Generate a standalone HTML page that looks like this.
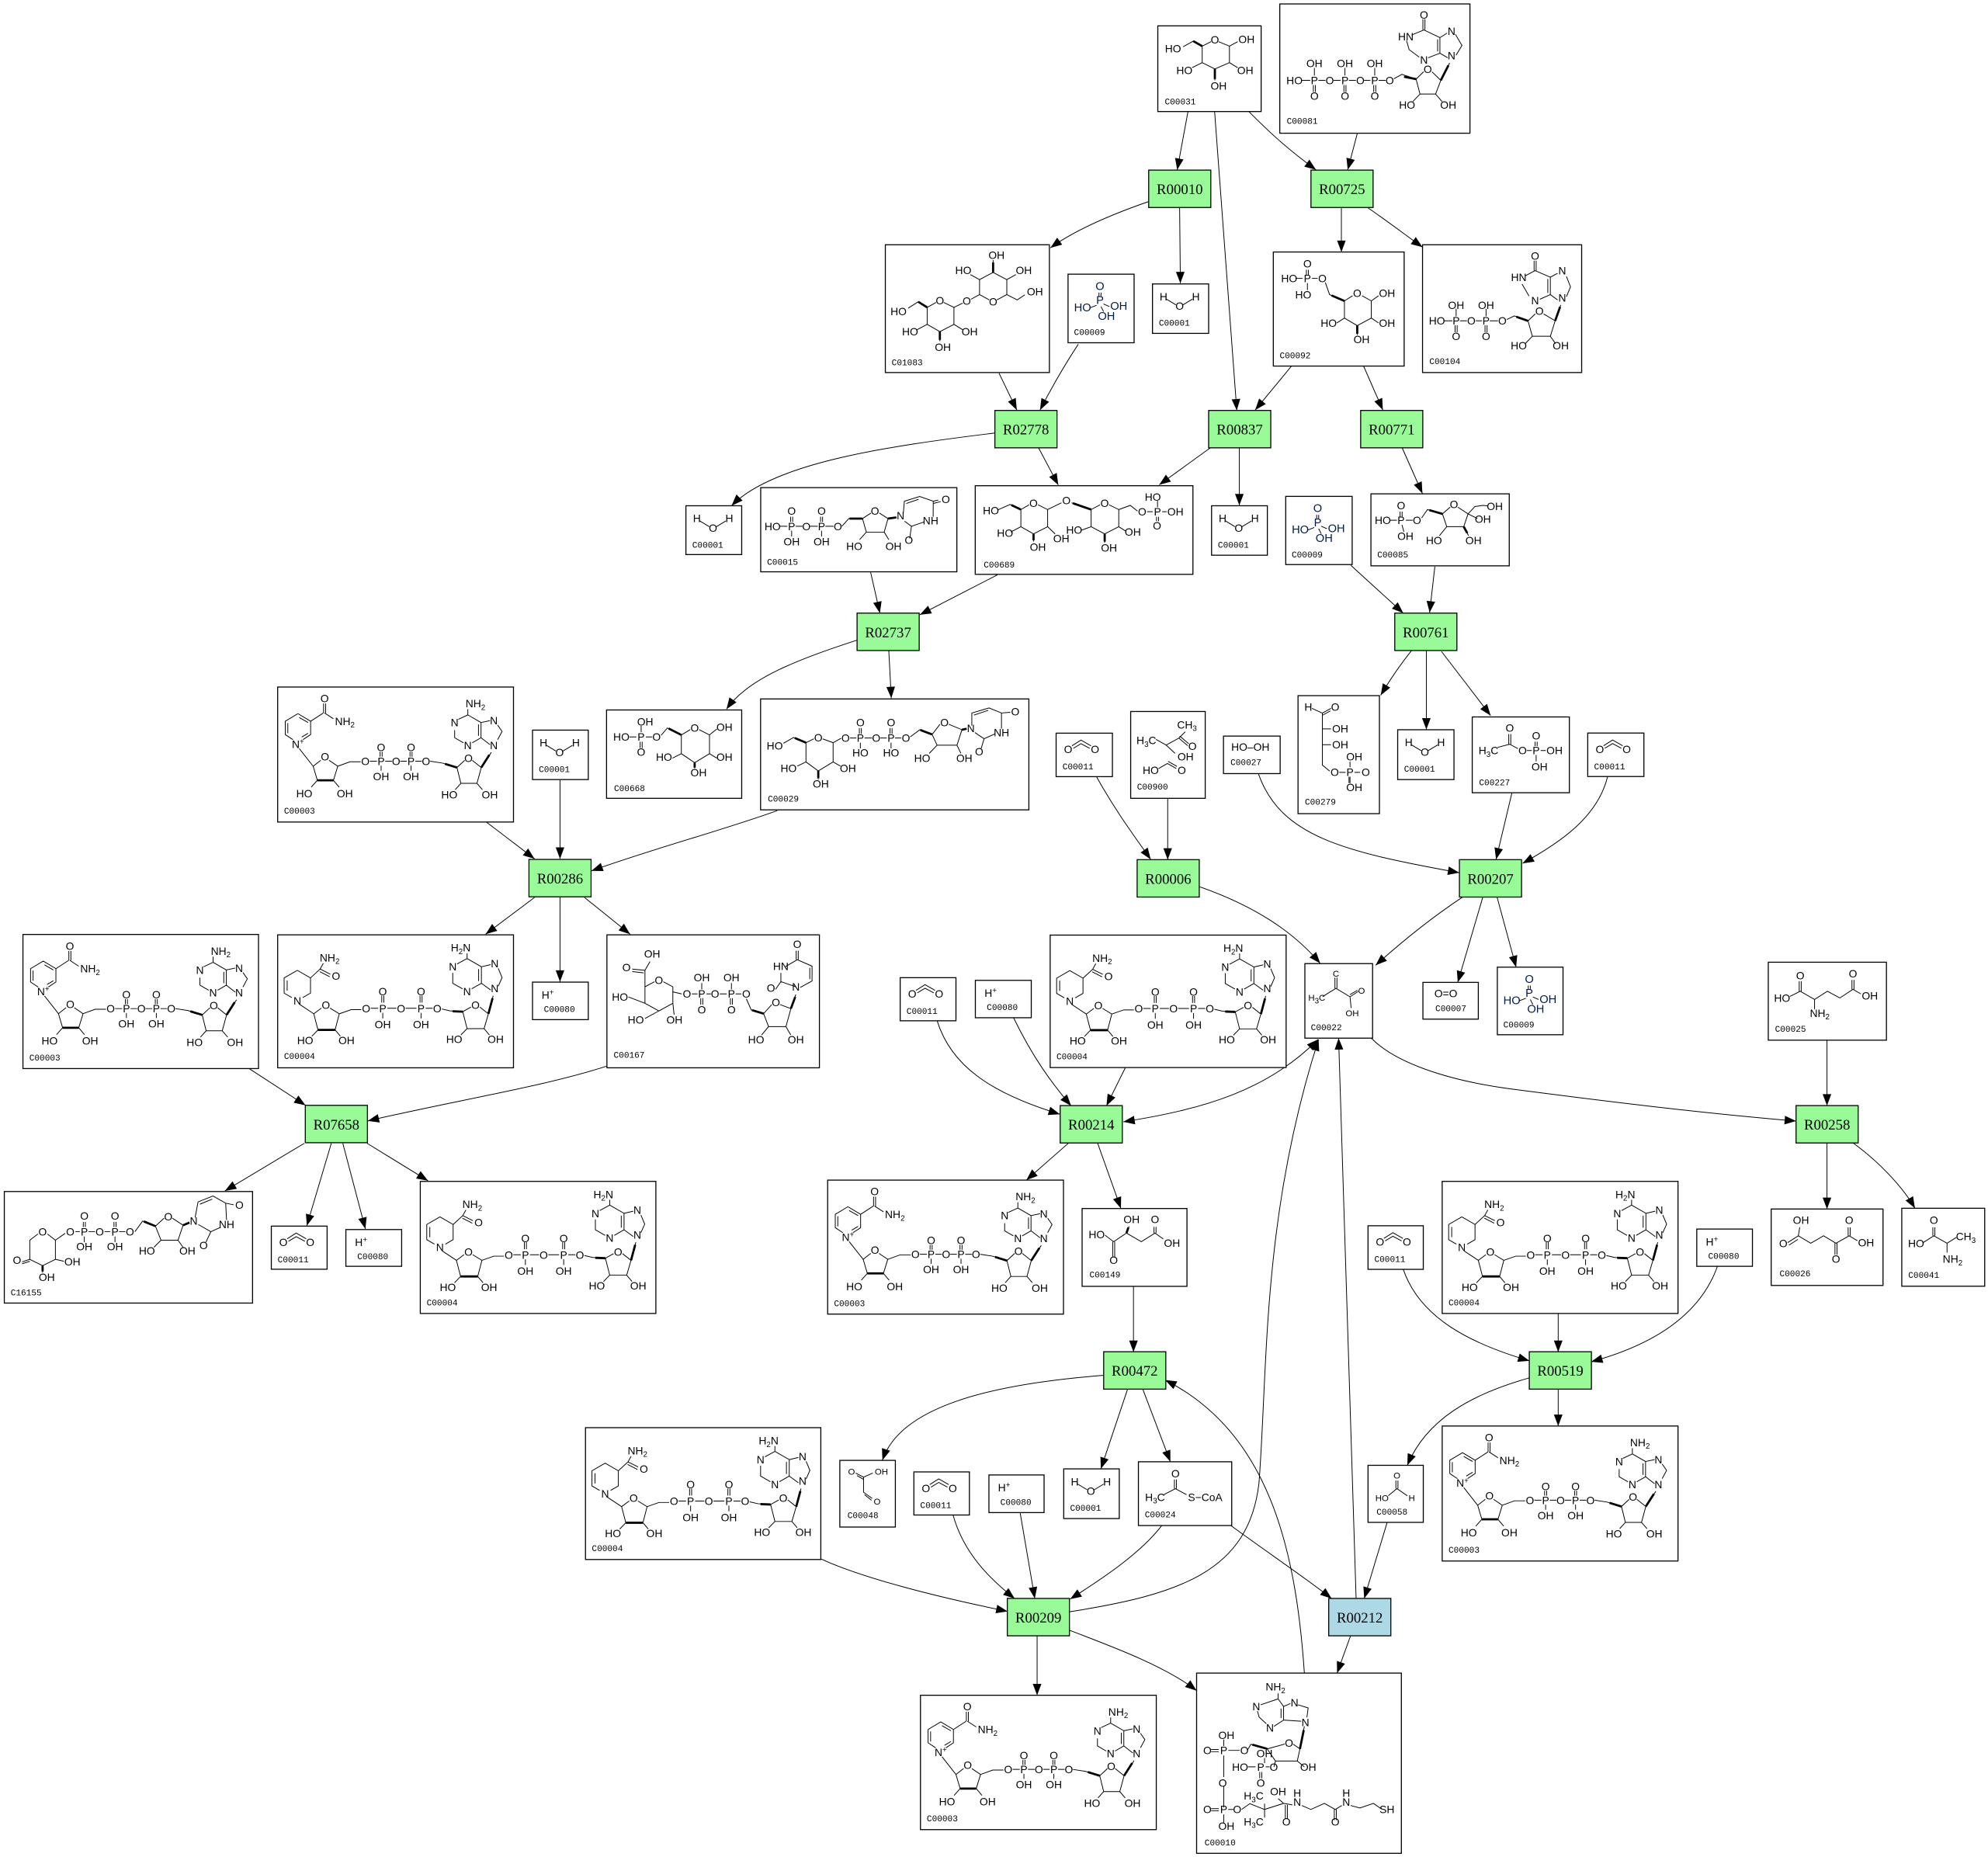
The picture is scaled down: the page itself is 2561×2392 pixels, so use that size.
<!DOCTYPE html>
<html><head><meta charset="utf-8">
<style>
html,body{margin:0;padding:0;background:#fff;}
svg{display:block}
.bx{fill:#fff;stroke:#000;stroke-width:.8}
.rx{fill:#98fb98;stroke:#000;stroke-width:.8}
.rb{fill:#add8e6;stroke:#000;stroke-width:.8}
.bd{fill:none;stroke:#000;stroke-width:.6}
.w{fill:none;stroke:#000;stroke-width:1.7}
.e{fill:none;stroke:#000;stroke-width:.6}
.t{font-family:"Liberation Sans",sans-serif;font-size:8.5px;text-anchor:middle;fill:#000}
.t7{font-size:7px}
.t9{font-size:9px;fill:#001a4d}
.l{font-family:"Liberation Mono",monospace;font-size:6.8px;fill:#000}
.r{font-family:"Liberation Serif",serif;font-size:11.5px;text-anchor:middle;fill:#000}
.s{font-size:6px}
</style></head><body>
<svg width="2561" height="2392" viewBox="0 0 1568 1465" preserveAspectRatio="none" xmlns="http://www.w3.org/2000/svg">
<defs>
<marker id="a" markerUnits="userSpaceOnUse" markerWidth="10" markerHeight="8" refX="9" refY="3.4" orient="auto-start-reverse" overflow="visible"><path d="M0,0L9,3.4L0,6.8z" fill="#000"/></marker>
<g id="gNADP">
<path class="bd" d="M16,21L26,27V37.5L20,41.5M12,41.5L6,37.5V27L16,21M8,28.5V36.5M17,24L24,28M19,39.5L24,36.5M26,27L36,20.5M36.2,20.5V13M37.8,20.5V13M37,20.5L44,25M17,48.5L28,62.5M28,62.5L34,57.8M40.5,57.8L47.4,62.5L44,73.6H31.3L28,62.5M31.3,73.6L26.5,79M44,73.6L48.5,79M47.4,62.5L57,59H65.5M72.7,58.5H78.3M84.9,58.5H90.1M96.7,58.5H101.9M108.5,58.5H113.7M80.8,51V55M82.4,51V55M104.4,51V55M106,51V55M81.6,62V66M105.2,62V66M120.3,58.5L130,60L141.4,63.5L147.5,57.8M153.5,57.8L160.6,63.5L157.2,76H144.5L141.4,63.5M144.5,76L140,81M157.2,76L161.5,81M160.6,63.5L168.5,51.5M150,22L160.4,28V40L153.5,44M146.5,44L139.6,40V34M142.5,25.5L150,22M150,22V17.5M158.4,29.5V38.5M160.4,28L167.5,26.5M173.5,30L177,35L173.5,41.5M167.5,45.5L160.4,40"/>
<path class="w" d="M31.3,73.6L44,73.6M132,60.6L141.4,63.5M160.6,63.5L167,53.5"/>
</g>
<g id="gNADH">
<path class="bd" d="M15.5,28L25.9,34V46L19.8,49.5M11.2,49.5L5.1,46V34L15.5,28M7.5,36V44M25.9,34L33.5,27L36,22.5M33.5,27L41.5,31M33.2,29L41,33M17.5,55L28.5,62.3M28.5,62.3L34.5,57.8M41.3,57.8L48.6,62.3L45.3,75H31.8L28.5,62.3M31.8,75L27,80M45.3,75L49.5,80M48.6,62.3L58,59H66M73.4,57.9H79.3M86.5,57.9H93.7M100.9,57.9H109.5M116.7,57.9H122.3M82.1,48V53.5M83.7,48V53.5M112.3,48V53.5M113.9,48V53.5M82.9,61.5V66M113.1,61.5V66M129.5,58.5L136,60L146,60.6L152.5,57M159.5,57L166.2,62.3L162.8,74H149.4L146,60.6M149.4,74L144.5,79M162.8,74L167,79M166.2,62.3L170,48M149.4,18.7L160.7,25.2V38.2L153,42.6M145.8,42.6L138.1,38.2V30M141.5,23L149.4,18.7M149.4,18.7V14.5M158.5,27V36.5M160.7,25.2L168,23.5M174,26.5L177,33.7L174,40.5M168,43.5L160.7,38.2"/>
<path class="w" d="M31.8,75L45.3,75M138,60.3L146,60.6M166.2,62.3L169.5,50"/>
</g>
</defs>
<rect width="1568" height="1465" fill="#fff"/>

<!-- EDGES -->
<g class="e" marker-end="url(#a)">
<path d="M937,88L928.5,134"/>
<path d="M958,88L975.5,323.8"/>
<path d="M985,88C998,101 1012,115 1038,134"/>
<path d="M1070.6,105L1063,134"/>
<path d="M906,159C880,168 850,180 828.5,195.5"/>
<path d="M930.4,164L931,223.5"/>
<path d="M1058,164L1058,198.8"/>
<path d="M1079,164C1095,175 1108,185 1122,195"/>
<path d="M788,294.5L802,323.5"/>
<path d="M850.5,271.5Q835,295 820.3,323.5"/>
<path d="M1018.5,289L990,323.5"/>
<path d="M1075.6,289L1090.7,323.5"/>
<path d="M784.7,341.6C700,352 610,365 577,399"/>
<path d="M819,353L834.7,382.6"/>
<path d="M954.6,353.3L914.3,382.5"/>
<path d="M977.5,353L977.5,398.7"/>
<path d="M1105.8,353L1121.9,389.3"/>
<path d="M686.7,451.5L694,483.7"/>
<path d="M786.7,453.5L725.5,485"/>
<path d="M1065.5,446L1106.8,483.7"/>
<path d="M1131.7,447L1127.6,483.3"/>
<path d="M676,505C630,520 590,535 573,559.5"/>
<path d="M701,513L703,550.8"/>
<path d="M1113.5,513Q1100,530 1089,548.5"/>
<path d="M1125,513L1125,575.5"/>
<path d="M1137,514L1175.7,564.5"/>
<path d="M383.6,648.5L421.6,677.5"/>
<path d="M441.7,615L441.7,677.5"/>
<path d="M613,639.5C570,655 520,668 466.5,687"/>
<path d="M421.6,708L383,737"/>
<path d="M441.7,708L441.7,774.5"/>
<path d="M461,708L497,737"/>
<path d="M196.5,843L241,872"/>
<path d="M478.7,841C430,857 360,868 290,884.3"/>
<path d="M240,902L177.4,939.5"/>
<path d="M261.3,902L242,967"/>
<path d="M270.4,902L288.2,969.5"/>
<path d="M289.6,902L337.6,931.5"/>
<path d="M739.2,805.5C750,840 780,862 836,879"/>
<path d="M799.5,803C815,835 830,855 844.8,872.4"/>
<path d="M887.5,842.5L872.7,872.4"/>
<path d="M886,885C950,875 1000,860 1039.6,820" marker-start="url(#a)"/>
<path d="M843.1,901.5L809.5,931"/>
<path d="M865.6,901.5L884.1,953.4"/>
<path d="M894,1015L894,1066.6"/>
<path d="M946.3,699.6C990,715 1020,735 1041.3,760"/>
<path d="M1153.9,707.5Q1120,730 1085,761.5"/>
<path d="M1169.6,707.5L1149.8,775"/>
<path d="M1180.7,707.5L1195.8,763"/>
<path d="M921,630L921,678.2"/>
<path d="M865,613C880,640 895,660 907.6,678"/>
<path d="M992.6,610.5C1010,660 1060,672 1151,688.5"/>
<path d="M1192.5,625.5L1180,678"/>
<path d="M1268,612.6C1260,645 1230,665 1200.9,681.1"/>
<path d="M1081.6,819C1100,838 1140,852 1191,859C1260,868 1340,878 1416.6,884.4"/>
<path d="M1441,820.6L1441,872.2"/>
<path d="M1441,901.6L1441,953.8"/>
<path d="M1461.5,901.6C1480,915 1500,935 1510.4,953.2"/>
<path d="M1229,1036L1229,1066.6"/>
<path d="M1106.8,1001.4C1120,1040 1160,1060 1206.3,1073.6"/>
<path d="M1354.6,999C1340,1040 1300,1062 1255,1074.3"/>
<path d="M1229,1095.5L1229,1125"/>
<path d="M1206.3,1087C1160,1100 1125,1120 1110,1156"/>
<path d="M870.7,1085C780,1092 710,1110 696,1152"/>
<path d="M889.5,1095.5L868.3,1158.8"/>
<path d="M901.2,1095.5L923.1,1153.2"/>
<path d="M647.4,1229.8C680,1245 740,1260 794.7,1271.2"/>
<path d="M751.7,1195.2C760,1225 780,1245 800.3,1261.1"/>
<path d="M804.6,1193.3L816.2,1261.1"/>
<path d="M916.3,1203.5C900,1225 870,1245 844,1261.6"/>
<path d="M843.2,1271.6C930,1258 985,1240 993,1170C1000,1080 995,960 1040,820"/>
<path d="M843.2,1286C880,1300 920,1315 943.8,1333.8"/>
<path d="M818,1290.3L818,1337.4"/>
<path d="M970.8,1203.5C1000,1225 1030,1245 1050.3,1261.1"/>
<path d="M1094.1,1201L1076,1261.1"/>
<path d="M1069.6,1261.1L1055.8,819"/>
<path d="M1065.3,1290.3L1054.6,1319.9"/>
<path d="M1028.8,1319.9C1022,1220 1000,1130 919,1088.7"/>
</g>

<!-- REACTIONS -->
<g>
<rect class="rx" x="906" y="134.2" width="49" height="29.5"/><text class="r" x="930.5" y="153.2">R00010</text>
<rect class="rx" x="1034" y="134.2" width="49" height="29.5"/><text class="r" x="1058.5" y="153.2">R00725</text>
<rect class="rx" x="784.7" y="323.8" width="49" height="29.5"/><text class="r" x="809.2" y="342.8">R02778</text>
<rect class="rx" x="953.3" y="323.8" width="49" height="29.5"/><text class="r" x="977.8" y="342.8">R00837</text>
<rect class="rx" x="1073.2" y="323.8" width="49" height="29.5"/><text class="r" x="1097.7" y="342.8">R00771</text>
<rect class="rx" x="676" y="483.7" width="49" height="29.5"/><text class="r" x="700.5" y="502.7">R02737</text>
<rect class="rx" x="1100.1" y="483.7" width="49" height="29.5"/><text class="r" x="1124.6" y="502.7">R00761</text>
<rect class="rx" x="417.2" y="678" width="49" height="29.5"/><text class="r" x="441.7" y="697">R00286</text>
<rect class="rx" x="896.9" y="678.2" width="49" height="29.5"/><text class="r" x="921.4" y="697.2">R00006</text>
<rect class="rx" x="1151.1" y="678.2" width="49" height="29.5"/><text class="r" x="1175.6" y="697.2">R00207</text>
<rect class="rx" x="240.8" y="872" width="49" height="29.5"/><text class="r" x="265.3" y="891">R07658</text>
<rect class="rx" x="836.2" y="872.2" width="49" height="29.5"/><text class="r" x="860.7" y="891.2">R00214</text>
<rect class="rx" x="1416.6" y="872.2" width="49" height="29.5"/><text class="r" x="1441.1" y="891.2">R00258</text>
<rect class="rx" x="870.5" y="1066.4" width="49" height="29.5"/><text class="r" x="895" y="1085.4">R00472</text>
<rect class="rx" x="1206.2" y="1066.4" width="49" height="29.5"/><text class="r" x="1230.7" y="1085.4">R00519</text>
<rect class="rx" x="794.5" y="1261" width="49" height="29.5"/><text class="r" x="819" y="1280">R00209</text>
<rect class="rb" x="1048" y="1261" width="49" height="29.5"/><text class="r" x="1072.5" y="1280">R00212</text>
</g>

<!-- C00031 -->
<g transform="translate(913.2,20.4)">
<rect class="bx" width="81.5" height="67.6"/>
<path class="bd" d="M35,16L42,12.5M48,12.5L56.5,16V29L45,34L35,29V16M35,16L28,12L20,16.5M56.5,16L63,12.5M35,29L27,33M56.5,29L63,33M45,34V43"/>
<path class="w" d="M35,16L28,12M45,34V42"/>
<text class="t" x="45" y="14">O</text><text class="t" x="12" y="21">HO</text><text class="t" x="70" y="13.5">OH</text><text class="t" x="21" y="38">HO</text><text class="t" x="69" y="38">OH</text><text class="t" x="48" y="50.5">OH</text>
<text class="l" x="5.5" y="62">C00031</text>
</g>

<!-- C00081 -->
<g transform="translate(1009.4,3.1)">
<rect class="bx" width="150" height="102"/>
<path class="bd" d="M17,60.3H24M30.5,60.3H36M42.5,60.3H48M54.5,60.3H60M66.5,60.3H71.5M78,60.3H83.5M27.3,50.5V56.5M51.4,50.5V56.5M74.9,50.5V56.5M26.5,64V69.5M28.1,64V69.5M50.6,64V69.5M52.2,64V69.5M74.1,64V69.5M75.7,64V69.5M90,59L96.3,55.6L107.5,59.3M107.5,59.3L113.5,53.5M120,53.5L127,60.3L122.9,71.1H110.6L107.5,59.3M110.6,71.1L105,77M122.9,71.1L128,77M127,60.3L134,46.5M113.7,20.5L104,24.5M100,29L102,36L110,42M117,42.5L126.3,38.9V26.6L113.7,20.5M112.9,20.5V12M114.5,20.5V12M126.3,26.6L132,23M138.5,24L143.7,32.7L139,40.5M132.5,42.5L126.3,38.9M124.5,28V37.5"/>
<path class="w" d="M98,57.5L107.5,59.3M127,60.3L133,48.5"/>
<text class="t" x="11.6" y="63.3">HO</text><text class="t" x="27.3" y="63.3">P</text><text class="t" x="39.4" y="63.3">O</text><text class="t" x="51.4" y="63.3">P</text><text class="t" x="63.5" y="63.3">O</text><text class="t" x="74.9" y="63.3">P</text><text class="t" x="86.7" y="63.3">O</text>
<text class="t" x="27.3" y="50">OH</text><text class="t" x="51.4" y="50">OH</text><text class="t" x="74.9" y="50">OH</text>
<text class="t" x="27.3" y="75.5">O</text><text class="t" x="51.4" y="75.5">O</text><text class="t" x="74.9" y="75.5">O</text>
<text class="t" x="116.7" y="54.5">O</text><text class="t" x="100.4" y="82.7">HO</text><text class="t" x="132.9" y="82.7">OH</text>
<text class="t" x="99.4" y="28.6">HN</text><text class="t" x="113.7" y="47">N</text><text class="t" x="135.5" y="24.5">N</text><text class="t" x="135.5" y="43.9">N</text><text class="t" x="113.7" y="11.7">O</text>
<text class="l" x="5.5" y="94.5">C00081</text>
</g>

<!-- C01083 -->
<g transform="translate(698.3,193.1)">
<rect class="bx" width="129.4" height="100.8"/>
<path class="bd" d="M33,49.4L40,45.5M46,45.5L54.1,49.4V62.8L43,68.5L33,62.8V49.4M74.3,27.5L85,21.8L95.8,27.5V39.3L88,43.5M82,43.5L74.3,39.3V27.5M54.1,49.4L61,46M67.5,43L74.3,39.3M85,21.8V12M74.3,27.5L67,23.5M95.8,27.5L103,23.5M95.8,39.3L104,43.5L110,39.5M33,49.4L26,45L18,50M33,62.8L25,67M54.1,62.8L61,67M43,68.5V76"/>
<path class="w" d="M85,21.8V14M43,68.5V75M33,49.4L26,45"/>
<text class="t" x="43" y="47">O</text><text class="t" x="85" y="48">O</text><text class="t" x="64.2" y="47.4">O</text>
<text class="t" x="87.7" y="11.1">OH</text><text class="t" x="61.5" y="23.2">HO</text><text class="t" x="109.2" y="23.2">OH</text><text class="t" x="118" y="40">OH</text>
<text class="t" x="10.4" y="55.7">HO</text><text class="t" x="19.5" y="71.5">HO</text><text class="t" x="66.5" y="71.5">OH</text><text class="t" x="45.4" y="83.6">OH</text>
<text class="l" x="5" y="95">C01083</text>
</g>

<!-- C00009 (a) -->
<g transform="translate(842.4,216.3)">
<rect class="bx" width="52.1" height="54.1"/>
<path class="bd" d="M24.4,14.5V17.5M26,14.5V17.5M22.5,24.5L17.5,26.5M28,23.5L32.5,25.5M26,25.5L28,29.5"/>
<text class="t t9" x="25.2" y="12.4">O</text><text class="t t9" x="25.2" y="23.5">P</text><text class="t t9" x="11.5" y="29.2">HO</text><text class="t t9" x="40" y="28.2">OH</text><text class="t t9" x="30.3" y="35.9">OH</text>
<text class="l" x="4.7" y="48">C00009</text>
</g>

<!-- C00001 waters -->
<g transform="translate(909,224)"><rect class="bx" width="44.3" height="39"/><path class="bd" d="M11,12L18.5,16.5M24,16.5L31.5,12"/><text class="t" x="8.7" y="13">H</text><text class="t" x="21.4" y="20.5">O</text><text class="t" x="34.2" y="13">H</text><text class="l" x="5" y="33">C00001</text></g>
<g transform="translate(541,399)"><rect class="bx" width="44" height="38.5"/><path class="bd" d="M11,12L18.5,16.5M24,16.5L31.5,12"/><text class="t" x="8.7" y="13">H</text><text class="t" x="21.4" y="20.5">O</text><text class="t" x="34.2" y="13">H</text><text class="l" x="5" y="33">C00001</text></g>
<g transform="translate(955.6,399)"><rect class="bx" width="44" height="39"/><path class="bd" d="M11,12L18.5,16.5M24,16.5L31.5,12"/><text class="t" x="8.7" y="13">H</text><text class="t" x="21.4" y="20.5">O</text><text class="t" x="34.2" y="13">H</text><text class="l" x="5" y="33">C00001</text></g>
<g transform="translate(420,576)"><rect class="bx" width="44" height="39"/><path class="bd" d="M11,12L18.5,16.5M24,16.5L31.5,12"/><text class="t" x="8.7" y="13">H</text><text class="t" x="21.4" y="20.5">O</text><text class="t" x="34.2" y="13">H</text><text class="l" x="5" y="33">C00001</text></g>
<g transform="translate(1102.4,575.7)"><rect class="bx" width="44.4" height="39.3"/><path class="bd" d="M11,12L18.5,16.5M24,16.5L31.5,12"/><text class="t" x="8.7" y="13">H</text><text class="t" x="21.4" y="20.5">O</text><text class="t" x="34.2" y="13">H</text><text class="l" x="5" y="33">C00001</text></g>
<g transform="translate(839,1158.8)"><rect class="bx" width="43.8" height="39.2"/><path class="bd" d="M11,12L18.5,16.5M24,16.5L31.5,12"/><text class="t" x="8.7" y="13">H</text><text class="t" x="21.4" y="20.5">O</text><text class="t" x="34.2" y="13">H</text><text class="l" x="5" y="33">C00001</text></g>

<!-- C00092 -->
<g transform="translate(1004.3,198.8)">
<rect class="bx" width="103.2" height="90"/>
<path class="bd" d="M26.1,14V18M27.7,14V18M17.5,20.8H23M30.5,20.8H35M26.9,24.5V30M41,24L44.4,33.6L56.1,38.6M56.1,38.6L62.5,34.5M70,34.5L77.3,38.6V52.1L66.2,58.1L56.1,52.1V38.6M77.3,38.6L83,34.5M77.3,52.1L83,56M56.1,52.1L50,56M66.2,58.1V65.5"/>
<path class="w" d="M46,34.3L56.1,38.6M66.2,58.1V64.5"/>
<text class="t" x="26.9" y="12.1">O</text><text class="t" x="12.5" y="23.8">HO</text><text class="t" x="26.9" y="23.8">P</text><text class="t" x="38.7" y="23.8">O</text><text class="t" x="23.6" y="36.6">HO</text>
<text class="t" x="66.2" y="35.6">O</text><text class="t" x="89.7" y="35.6">OH</text><text class="t" x="89.7" y="59.1">OH</text><text class="t" x="43.7" y="59.1">HO</text><text class="t" x="69.6" y="71.9">OH</text>
<text class="l" x="5" y="84">C00092</text>
</g>

<!-- C00104 -->
<g transform="translate(1122,193.1)">
<rect class="bx" width="125.5" height="100.8"/>
<path class="bd" d="M17,60H23.5M29.5,60H35M42,60H47M53,60H59.5M26.5,50.5V56.5M50.1,50.5V56.5M25.7,63.5V69M27.3,63.5V69M49.3,63.5V69M50.9,63.5V69M66.5,59L72.4,56.1L83.2,60M83.2,60L89,54.5M95.5,54.5L104.6,60L100.8,72.2H86.6L83.2,60M86.6,72.2L81,78M100.8,72.2L105,78M104.6,60L109,47.5M88.8,20.4L81,24.5M78.5,31L84,40.5M88.8,20.4L100.8,25.6V39.3L92.5,43M88,20.4V12.5M89.6,20.4V12.5M100.8,25.6L106.5,22.5M113.5,25L116.7,33.2L113.5,41M106.5,43.5L100.8,39.3M98.8,27V38"/>
<path class="w" d="M74,56.8L83.2,60M104.6,60L108.5,49"/>
<text class="t" x="11.4" y="63">HO</text><text class="t" x="26.5" y="63">P</text><text class="t" x="38.5" y="63">O</text><text class="t" x="50.1" y="63">P</text><text class="t" x="63" y="63">O</text>
<text class="t" x="26.5" y="50.6">OH</text><text class="t" x="50.1" y="50.6">OH</text><text class="t" x="26.5" y="75.2">O</text><text class="t" x="50.1" y="75.2">O</text>
<text class="t" x="92.2" y="55.4">O</text><text class="t" x="75.9" y="82.5">HO</text><text class="t" x="109" y="82.5">OH</text>
<text class="t" x="75.9" y="28.6">HN</text><text class="t" x="88.8" y="46.9">N</text><text class="t" x="110.2" y="23.4">N</text><text class="t" x="110.2" y="44.8">N</text><text class="t" x="88.8" y="11.8">O</text>
<text class="l" x="5.4" y="94">C00104</text>
</g>

<!-- C00015 -->
<g transform="translate(600,384.7)">
<rect class="bx" width="154.7" height="66.4"/>
<path class="bd" d="M15,30.5H21M27.5,30.5H33M39,30.5H45M51,30.5H57.5M64,30.5L69.5,24.4L80.3,24.4M23.6,23V27M25.2,23V27M47.2,23V27M48.8,23V27M24.4,34V38.5M48,34V38.5M80.3,24.4L87,20M93.5,20L100.4,24.4L97.4,35.1H83.3L80.3,24.4M83.3,35.1L78,41M97.4,35.1L101,41M100.4,24.4L107,23.5M112.5,20L113.3,10.7L125.4,7L136.1,10.7L140,9.8M136.1,10.7L136,23M129,27L118.9,30.5L113.5,26.5M118.9,30.5L117.5,40M114.8,12.5L124.5,9.2M136.1,12.5L142,11"/>
<path class="w" d="M70,24.4L80.3,24.4M100.4,24.4L107,23.5"/>
<text class="t" x="9.4" y="33.5">HO</text><text class="t" x="24.4" y="33.5">P</text><text class="t" x="36" y="33.5">O</text><text class="t" x="48" y="33.5">P</text><text class="t" x="60.9" y="33.5">O</text>
<text class="t" x="24.4" y="21.3">O</text><text class="t" x="48" y="21.3">O</text><text class="t" x="24.4" y="45.7">OH</text><text class="t" x="48" y="45.7">OH</text>
<text class="t" x="90.1" y="21.3">O</text><text class="t" x="73.8" y="49.3">HO</text><text class="t" x="104.7" y="49.3">OH</text>
<text class="t" x="110.3" y="25">N</text><text class="t" x="146" y="12.2">O</text><text class="t" x="134" y="28.9">NH</text><text class="t" x="116.8" y="44.2">O</text>
<text class="l" x="5" y="61">C00015</text>
</g>

<!-- C00689 -->
<g transform="translate(769.2,383.2)">
<rect class="bx" width="171.7" height="69.9"/>
<path class="bd" d="M36,18.8L42.5,15M49.5,15L57.1,18.8V32.3L46,38L36,32.3V18.8M36,18.8L27.5,14.8L18,19M36,32.3L28,36.5M46,38V44M57.1,32.3L63,38M57.1,18.8L68,13.5M91.4,18.8L98.5,15M105.5,15L113.2,18.8V32.3L102.1,38L91.4,32.3V18.8M76,13.5L91.4,18.8M91.4,32.3L84,35M113.2,32.3L119,36M102.1,38V45M113.2,18.8L122.3,15.5L128,20M135.5,20.5H140M147.5,20.5H151M143.8,12V17M143,24.5V28M144.6,24.5V28"/>
<path class="w" d="M36,18.8L28.5,15.2M46,38V43M77,13.8L91.4,18.8M102.1,38V44"/>
<text class="t" x="12.4" y="22.5">HO</text><text class="t" x="23.5" y="40.3">HO</text><text class="t" x="49.4" y="51.4">OH</text><text class="t" x="67.9" y="44.7">OH</text>
<text class="t" x="46" y="16.8">O</text><text class="t" x="71.9" y="14.5">O</text><text class="t" x="102.1" y="16.8">O</text>
<text class="t" x="78" y="38">HO</text><text class="t" x="124.3" y="39.3">OH</text><text class="t" x="105.5" y="52.1">OH</text>
<text class="t" x="131.7" y="23.5">O</text><text class="t" x="143.8" y="23.5">P</text><text class="t" x="157.9" y="23.5">OH</text><text class="t" x="140.1" y="11.8">HO</text><text class="t" x="143.4" y="34.6">O</text>
<text class="l" x="6.7" y="64.5">C00689</text>
</g>

<!-- C00009 (b) -->
<g transform="translate(1014.1,391.6)">
<rect class="bx" width="52.4" height="53.8"/>
<path class="bd" d="M24.4,14.5V17.5M26,14.5V17.5M22.5,24.5L17.5,26.5M28,23.5L32.5,25.5M26,25.5L28,29.5"/>
<text class="t t9" x="25.2" y="12.4">O</text><text class="t t9" x="25.2" y="23.5">P</text><text class="t t9" x="11.5" y="29.2">HO</text><text class="t t9" x="40" y="28.2">OH</text><text class="t t9" x="30.3" y="35.9">OH</text>
<text class="l" x="4.7" y="48">C00009</text>
</g>

<!-- C00085 -->
<g transform="translate(1081.3,389.6)">
<rect class="bx" width="109.1" height="56.8"/>
<path class="bd" d="M23,14V18M24.6,14V18M15,20.8H20.5M27.5,20.8H33M24.5,24.5L26,30M40,19L44.6,12.4L56.4,15.8M56.4,15.8L62.5,10.5M68.5,10.5L76.6,15.8L73.2,25.9H59.8L56.4,15.8M76.6,15.8L82,10L88.3,9.1L92,9.5M76.6,15.8L84,19.5M59.8,25.9L54,33M73.2,25.9L77,33"/>
<path class="w" d="M46,12.8L56.4,15.8M73.2,25.9L76,31"/>
<text class="t" x="23.8" y="12.1">O</text><text class="t" x="9.4" y="23.8">HO</text><text class="t" x="23.8" y="23.8">P</text><text class="t" x="36.3" y="23.8">O</text><text class="t" x="27.2" y="36.3">OH</text>
<text class="t" x="65.5" y="11.4">O</text><text class="t" x="97.7" y="12.8">OH</text><text class="t" x="88.3" y="22.8">OH</text><text class="t" x="49.7" y="39.6">HO</text><text class="t" x="80.9" y="39.6">OH</text>
<text class="l" x="5" y="50">C00085</text>
</g>

<!-- NAD+ C00003 (a) -->
<g transform="translate(219,542)">
<rect class="bx" width="186" height="106.5"/>
<use href="#gNADP"/>
<text class="t" x="37" y="12">O</text><text class="t" x="53" y="30">NH<tspan class="s" dy="2">2</tspan></text><text class="t" x="16" y="48">N<tspan class="s" dy="-3">+</tspan></text><text class="t" x="37.3" y="58">O</text><text class="t" x="21" y="87">HO</text><text class="t" x="53" y="87">OH</text><text class="t" x="69.2" y="61.5">O</text><text class="t" x="81.6" y="61.5">P</text><text class="t" x="93.4" y="61.5">O</text><text class="t" x="105.2" y="61.5">P</text><text class="t" x="117" y="61.5">O</text><text class="t" x="81.6" y="50.5">O</text><text class="t" x="105.2" y="50.5">O</text><text class="t" x="81.6" y="73.5">OH</text><text class="t" x="105.2" y="73.5">OH</text><text class="t" x="150.5" y="59">O</text><text class="t" x="135.4" y="88">HO</text><text class="t" x="167.3" y="88">OH</text><text class="t" x="139.6" y="31">N</text><text class="t" x="150" y="49">N</text><text class="t" x="170.5" y="29.5">N</text><text class="t" x="170.5" y="49">N</text><text class="t" x="156" y="16">NH<tspan class="s" dy="2">2</tspan></text>
<text class="l" x="5" y="100">C00003</text>
</g>

<!-- C00668 -->
<g transform="translate(478.4,560.1)">
<rect class="bx" width="106.6" height="69.7"/>
<path class="bd" d="M27.3,12.5V17.5M18,21.3H23.5M31,21.3H36M26.5,25V30M28.1,25V30M43,20L48,14.2L59,19.7M59,19.7L66,15.5M73,15.5L81.2,19.7V34.5L69.5,41.6L59,34.5V19.7M81.2,19.7L87,15M81.2,34.5L87,38M59,34.5L52,38M69.5,41.6V46"/>
<path class="w" d="M49,14.6L59,19.7M69.5,41.6V45.5"/>
<text class="t" x="30.5" y="12.1">OH</text><text class="t" x="11.7" y="24.3">HO</text><text class="t" x="27.3" y="24.3">P</text><text class="t" x="39.4" y="24.3">O</text><text class="t" x="27.3" y="36.1">O</text>
<text class="t" x="69.5" y="17.2">O</text><text class="t" x="93" y="16.6">OH</text><text class="t" x="93" y="40.2">OH</text><text class="t" x="45.3" y="40.2">HO</text><text class="t" x="72.6" y="52.4">OH</text>
<text class="l" x="5.9" y="64">C00668</text>
</g>

<!-- C00029 -->
<g transform="translate(599.9,551.4)">
<rect class="bx" width="211.6" height="87.5"/>
<path class="bd" d="M35.8,34.5L42,31.5M49,31.5L57.2,34.5V49.7L45.5,56.8L35.8,49.7V34.5M35.8,34.5L26,30.4L18,35M35.8,49.7L29,53M57.2,49.7L63,53M45.5,56.8V63.5M57.2,34.5L63.5,31M70.5,30.8H75.5M82,30.8H88M94.5,30.8H99.5M106,30.8H111M77.9,23V27.5M79.5,23V27.5M102.1,23V27.5M103.7,23V27.5M78.7,34.5V39M102.9,34.5V39M118,30L125.6,24.3L135.3,28M135.3,28L141.5,20M148.5,20L158.8,24.3L154.9,36.5H139.2L135.3,28M139.2,36.5L133,43M154.9,36.5L158,43M158.8,24.3L162.5,23.5M166.6,21L166.6,11.1L180.2,7.1L190,11.1L197,10.5M190,11.1V23.5M185,27.5L176.3,31.4L169,26.5M176.3,31.4L174,39M168.2,12.8L179.5,9"/>
<path class="w" d="M35.8,34.5L27,30.8M45.5,56.8V62.5M126,24.5L135.3,28M158.8,24.3L162.5,23.5"/>
<text class="t" x="11.2" y="39.9">HO</text><text class="t" x="45.5" y="33.4">O</text><text class="t" x="22.1" y="57.8">HO</text><text class="t" x="68.9" y="57.8">OH</text><text class="t" x="47.5" y="70">OH</text>
<text class="t" x="67" y="33.8">O</text><text class="t" x="78.7" y="33.8">P</text><text class="t" x="91.2" y="33.8">O</text><text class="t" x="102.9" y="33.8">P</text><text class="t" x="114.6" y="33.8">O</text>
<text class="t" x="78.7" y="21.7">O</text><text class="t" x="102.9" y="21.7">O</text><text class="t" x="78.7" y="45.6">HO</text><text class="t" x="102.9" y="45.6">HO</text>
<text class="t" x="145" y="21.7">O</text><text class="t" x="127.5" y="49.7">HO</text><text class="t" x="160.7" y="49.7">OH</text>
<text class="t" x="165.8" y="26.3">N</text><text class="t" x="200.9" y="13.1">O</text><text class="t" x="190" y="29.4">NH</text><text class="t" x="172.4" y="44.6">O</text>
<text class="l" x="5.7" y="81">C00029</text>
</g>

<!-- CO2 boxes -->
<g transform="translate(833,578.4)"><rect class="bx" width="44.4" height="34.3"/><path class="bd" d="M12.5,10L19.6,5.5L27.5,10M13.5,12L19.6,8.3L26.5,12"/><text class="t" x="9.5" y="15.8">O</text><text class="t" x="30.7" y="15.8">O</text><text class="l" x="5" y="28.5">C00011</text></g>
<g transform="translate(1252.3,578.3)"><rect class="bx" width="44.3" height="34.3"/><path class="bd" d="M12.5,10L19.6,5.5L27.5,10M13.5,12L19.6,8.3L26.5,12"/><text class="t" x="9.5" y="15.8">O</text><text class="t" x="30.7" y="15.8">O</text><text class="l" x="5" y="28.5">C00011</text></g>
<g transform="translate(710,771.3)"><rect class="bx" width="44" height="34"/><path class="bd" d="M12.5,10L19.6,5.5L27.5,10M13.5,12L19.6,8.3L26.5,12"/><text class="t" x="9.5" y="15.8">O</text><text class="t" x="30.7" y="15.8">O</text><text class="l" x="5" y="28.5">C00011</text></g>
<g transform="translate(214,967.3)"><rect class="bx" width="44" height="34"/><path class="bd" d="M12.5,10L19.6,5.5L27.5,10M13.5,12L19.6,8.3L26.5,12"/><text class="t" x="9.5" y="15.8">O</text><text class="t" x="30.7" y="15.8">O</text><text class="l" x="5" y="28.5">C00011</text></g>
<g transform="translate(1079,967)"><rect class="bx" width="43.6" height="34.4"/><path class="bd" d="M12.5,10L19.6,5.5L27.5,10M13.5,12L19.6,8.3L26.5,12"/><text class="t" x="9.5" y="15.8">O</text><text class="t" x="30.7" y="15.8">O</text><text class="l" x="5" y="28.5">C00011</text></g>
<g transform="translate(720.8,1161.2)"><rect class="bx" width="43.8" height="34"/><path class="bd" d="M12.5,10L19.6,5.5L27.5,10M13.5,12L19.6,8.3L26.5,12"/><text class="t" x="9.5" y="15.8">O</text><text class="t" x="30.7" y="15.8">O</text><text class="l" x="5" y="28.5">C00011</text></g>

<!-- H+ boxes -->
<g transform="translate(420,774.8)"><rect class="bx" width="44" height="29.6"/><text class="t" x="12" y="13">H<tspan class="s" dy="-3">+</tspan></text><text class="l" x="9" y="23.5">C00080</text></g>
<g transform="translate(769.3,773.4)"><rect class="bx" width="44.1" height="29.5"/><text class="t" x="12" y="13">H<tspan class="s" dy="-3">+</tspan></text><text class="l" x="9" y="23.5">C00080</text></g>
<g transform="translate(272.8,970)"><rect class="bx" width="44" height="29"/><text class="t" x="12" y="13">H<tspan class="s" dy="-3">+</tspan></text><text class="l" x="9" y="23.5">C00080</text></g>
<g transform="translate(1338.3,969.6)"><rect class="bx" width="43.9" height="29.4"/><text class="t" x="12" y="13">H<tspan class="s" dy="-3">+</tspan></text><text class="l" x="9" y="23.5">C00080</text></g>
<g transform="translate(780,1163.6)"><rect class="bx" width="43.5" height="29.7"/><text class="t" x="12" y="13">H<tspan class="s" dy="-3">+</tspan></text><text class="l" x="9" y="23.5">C00080</text></g>

<!-- C00900 -->
<g transform="translate(891.8,561.3)">
<rect class="bx" width="58.8" height="68.5"/>
<path class="bd" d="M20,22L28,26.5L38,21L43,16M38,21L45,27M38.7,19.4L45.8,25.4M28,26.5L35,33M22,45L29,41L36,45M29.5,39.3L36.5,43.3"/>
<text class="t" x="44.4" y="13.4">CH<tspan class="s" dy="2">3</tspan></text><text class="t" x="12.4" y="25.8">H<tspan class="s" dy="2">3</tspan><tspan dy="-2">C</tspan></text><text class="t" x="48.7" y="30.2">O</text><text class="t" x="43.3" y="38.6">OH</text><text class="t" x="15.8" y="49.3">HO</text><text class="t" x="40.3" y="49.3">O</text>
<text class="l" x="5" y="61.5">C00900</text>
</g>

<!-- C00027 -->
<g transform="translate(965,580.7)"><rect class="bx" width="44.7" height="29.6"/><text class="t" x="21.2" y="11.7">HO–OH</text><text class="l" x="5.5" y="23">C00027</text></g>

<!-- C00279 -->
<g transform="translate(1023.8,548.8)">
<rect class="bx" width="64.2" height="93.1"/>
<path class="bd" d="M11,10L19.2,13.8L26,10M19.2,15.5L25.5,12M19.2,13.8V54.8L25,59.5M19.2,26.2H26M19.2,38.7H26M32.5,60.5H37.5M44.5,60.5H49M41,52V56.5M41,64V69M40.2,64V69"/>
<text class="t" x="8.1" y="11.8">H</text><text class="t" x="29.3" y="11.8">O</text><text class="t" x="33.3" y="29.2">OH</text><text class="t" x="33.3" y="41.7">OH</text>
<text class="t" x="28.9" y="63.5">O</text><text class="t" x="41" y="63.5">P</text><text class="t" x="53.4" y="63.5">O</text><text class="t" x="44.4" y="51.1">OH</text><text class="t" x="44.4" y="75.3">OH</text>
<text class="l" x="5.4" y="86">C00279</text>
</g>

<!-- C00227 -->
<g transform="translate(1161.2,565.6)">
<rect class="bx" width="76.6" height="59.8"/>
<path class="bd" d="M20,24L29.6,21.5L36,25M28.8,21.5V13.5M30.4,21.5V13.5M43,26.5H47M54,26.5H58M49.6,19.5V23M51.2,19.5V23M50.4,30V35"/>
<text class="t" x="29.6" y="11.7">O</text><text class="t" x="12.8" y="29.5">H<tspan class="s" dy="2">3</tspan><tspan dy="-2">C</tspan></text><text class="t" x="39.7" y="29.5">O</text><text class="t" x="50.4" y="29.5">P</text><text class="t" x="64.9" y="29.5">OH</text><text class="t" x="50.4" y="17.7">O</text><text class="t" x="53.1" y="42.3">OH</text>
<text class="l" x="5.4" y="54">C00227</text>
</g>

<!-- NAD+ C00003 (b) -->
<g transform="translate(18.1,737.2)">
<rect class="bx" width="185.8" height="105.8"/>
<use href="#gNADP"/>
<text class="t" x="37" y="12">O</text><text class="t" x="53" y="30">NH<tspan class="s" dy="2">2</tspan></text><text class="t" x="16" y="48">N<tspan class="s" dy="-3">+</tspan></text><text class="t" x="37.3" y="58">O</text><text class="t" x="21" y="87">HO</text><text class="t" x="53" y="87">OH</text><text class="t" x="69.2" y="61.5">O</text><text class="t" x="81.6" y="61.5">P</text><text class="t" x="93.4" y="61.5">O</text><text class="t" x="105.2" y="61.5">P</text><text class="t" x="117" y="61.5">O</text><text class="t" x="81.6" y="50.5">O</text><text class="t" x="105.2" y="50.5">O</text><text class="t" x="81.6" y="73.5">OH</text><text class="t" x="105.2" y="73.5">OH</text><text class="t" x="150.5" y="59">O</text><text class="t" x="135.4" y="88">HO</text><text class="t" x="167.3" y="88">OH</text><text class="t" x="139.6" y="31">N</text><text class="t" x="150" y="49">N</text><text class="t" x="170.5" y="29.5">N</text><text class="t" x="170.5" y="49">N</text><text class="t" x="156" y="16">NH<tspan class="s" dy="2">2</tspan></text>
<text class="l" x="5" y="99.5">C00003</text>
</g>

<!-- NADH C00004 (a) -->
<g transform="translate(219,737.5)">
<rect class="bx" width="186" height="104.9"/>
<use href="#gNADH"/>
<text class="t" x="41" y="21">NH<tspan class="s" dy="2">2</tspan></text><text class="t" x="46" y="35.5">O</text><text class="t" x="15.5" y="55">N</text><text class="t" x="38" y="58.5">O</text><text class="t" x="21.7" y="86.4">HO</text><text class="t" x="54.3" y="86.4">OH</text><text class="t" x="69.8" y="61">O</text><text class="t" x="82.9" y="61">P</text><text class="t" x="97.3" y="61">O</text><text class="t" x="113.1" y="61">P</text><text class="t" x="125.9" y="61">O</text><text class="t" x="82.9" y="47.8">O</text><text class="t" x="113.1" y="47.8">O</text><text class="t" x="82.9" y="73.7">OH</text><text class="t" x="113.1" y="73.7">OH</text><text class="t" x="156" y="58.5">O</text><text class="t" x="139.3" y="85.4">HO</text><text class="t" x="171.9" y="85.4">OH</text><text class="t" x="138.1" y="28.2">N</text><text class="t" x="149.4" y="47.7">N</text><text class="t" x="171.2" y="25.6">N</text><text class="t" x="171.2" y="45.1">N</text><text class="t" x="144.4" y="13.2">H<tspan class="s" dy="2">2</tspan><tspan dy="-2">N</tspan></text>
<text class="l" x="5" y="98">C00004</text>
</g>

<!-- C00167 -->
<g transform="translate(478.7,737.5)">
<rect class="bx" width="167.6" height="104.9"/>
<path class="bd" d="M30,41L37.5,37M44.5,37L52,41V54L41,60L30,54V41M30,41V28M30,28L20,27M29,30L20,29M30,28L34,21M30,54L17,49M41,60L30,66M52,54L53,63M52,45L59,46.6M67,46.6H71.5M78.5,46.6H82M89,46.6H94.5M101.5,46.6H106M74.8,38V43M98.2,38V43M74,50V55M75.6,50V55M97.4,50V55M99,50V55M110,50.5L113.8,59.2L123.6,62.2M123.6,62.2L130,55M136.5,55L145.1,58.2L141.2,72.4H127.5L123.6,62.2M127.5,72.4L122,79M141.2,72.4L145,79M145.1,58.2L149,47M149,41L137.2,36.9L133,43M137.2,36.9V30M141,25L150.1,19.6L161.8,24.7V36.4L152.5,41.5M149.3,19.6V12.5M150.9,19.6V12.5M160,26V35"/>
<path class="w" d="M114.5,59.4L123.6,62.2M145.1,58.2L148.5,49"/>
<text class="t" x="35.7" y="17.9">OH</text><text class="t" x="15.4" y="28.7">O</text><text class="t" x="41" y="38.9">O</text><text class="t" x="10.3" y="52">HO</text><text class="t" x="22.8" y="69.9">HO</text><text class="t" x="53.3" y="69.9">OH</text>
<text class="t" x="63.1" y="49.6">O</text><text class="t" x="74.8" y="49.6">P</text><text class="t" x="85.3" y="49.6">O</text><text class="t" x="98.2" y="49.6">P</text><text class="t" x="109.9" y="49.6">O</text>
<text class="t" x="74.8" y="36.8">OH</text><text class="t" x="98.2" y="36.8">OH</text><text class="t" x="74.8" y="62.2">O</text><text class="t" x="98.2" y="62.2">O</text>
<text class="t" x="133.3" y="56.1">O</text><text class="t" x="117.7" y="85.6">HO</text><text class="t" x="149" y="85.6">OH</text>
<text class="t" x="149" y="43.9">N</text><text class="t" x="129.4" y="45">O</text><text class="t" x="137.2" y="27.7">HN</text><text class="t" x="150.1" y="10.4">O</text>
<text class="l" x="5.3" y="97">C00167</text>
</g>

<!-- NADH C00004 (b) -->
<g transform="translate(828.3,737.7)">
<rect class="bx" width="186.1" height="104.5"/>
<use href="#gNADH"/>
<text class="t" x="41" y="21">NH<tspan class="s" dy="2">2</tspan></text><text class="t" x="46" y="35.5">O</text><text class="t" x="15.5" y="55">N</text><text class="t" x="38" y="58.5">O</text><text class="t" x="21.7" y="86.4">HO</text><text class="t" x="54.3" y="86.4">OH</text><text class="t" x="69.8" y="61">O</text><text class="t" x="82.9" y="61">P</text><text class="t" x="97.3" y="61">O</text><text class="t" x="113.1" y="61">P</text><text class="t" x="125.9" y="61">O</text><text class="t" x="82.9" y="47.8">O</text><text class="t" x="113.1" y="47.8">O</text><text class="t" x="82.9" y="73.7">OH</text><text class="t" x="113.1" y="73.7">OH</text><text class="t" x="156" y="58.5">O</text><text class="t" x="139.3" y="85.4">HO</text><text class="t" x="171.9" y="85.4">OH</text><text class="t" x="138.1" y="28.2">N</text><text class="t" x="149.4" y="47.7">N</text><text class="t" x="171.2" y="25.6">N</text><text class="t" x="171.2" y="45.1">N</text><text class="t" x="144.4" y="13.2">H<tspan class="s" dy="2">2</tspan><tspan dy="-2">N</tspan></text>
<text class="l" x="5" y="98">C00004</text>
</g>

<!-- C00022 -->
<g transform="translate(1029.2,760.2)">
<rect class="bx" width="53.4" height="58.8"/>
<path class="bd" d="M14,26L24.5,19.5L35.6,26.2M23.7,19.5V11M25.3,19.5V11M35.6,26.2L42,22M35.6,24.5L41.5,21M35.6,26.2L36.5,35"/>
<text class="t t7" x="24.5" y="10.2">C</text><text class="t t7" x="9.4" y="29.4">H<tspan class="s" dy="2">3</tspan><tspan dy="-2">C</tspan></text><text class="t t7" x="44.7" y="23.7">O</text><text class="t t7" x="37.3" y="41.5">OH</text>
<text class="l" x="4.7" y="52.4">C00022</text>
</g>

<!-- C00007 -->
<g transform="translate(1122.3,775)"><rect class="bx" width="43.7" height="29"/><text class="t" x="18.1" y="11.7">O=O</text><text class="l" x="9.8" y="22.7">C00007</text></g>

<!-- C00009 (c) -->
<g transform="translate(1181,763)">
<rect class="bx" width="51.8" height="53.3"/>
<path class="bd" d="M24.4,14.5V17.5M26,14.5V17.5M22.5,24.5L17.5,26.5M28,23.5L32.5,25.5M26,25.5L28,29.5"/>
<text class="t t9" x="25.2" y="12.4">O</text><text class="t t9" x="25.2" y="23.5">P</text><text class="t t9" x="11.5" y="29.2">HO</text><text class="t t9" x="40" y="28.2">OH</text><text class="t t9" x="30.3" y="35.9">OH</text>
<text class="l" x="4.7" y="47.5">C00009</text>
</g>

<!-- C00025 -->
<g transform="translate(1394.7,759.1)">
<rect class="bx" width="93.2" height="61.5"/>
<path class="bd" d="M17,27L25.2,22.9L36.5,29.4L46.6,22.9L56.4,28.2L66.8,21.4L73,25M24.4,22.9V15M26,22.9V15M66,21.4V14M67.6,21.4V14M36.5,29.4V37"/>
<text class="t" x="25.2" y="13.4">O</text><text class="t" x="10.9" y="31.2">HO</text><text class="t" x="40.6" y="43.1">NH<tspan class="s" dy="2">2</tspan></text><text class="t" x="66.8" y="11.9">O</text><text class="t" x="80.1" y="29.4">OH</text>
<text class="l" x="5.3" y="55">C00025</text>
</g>

<!-- C16155 -->
<g transform="translate(3.4,940)">
<rect class="bx" width="195.8" height="88"/>
<path class="bd" d="M26.5,33.5L20.1,38.4V53.5L30.2,58.5L40.3,53.5V38.4L34,33.5M20.1,53.5L14,55.5M20.1,55L14,57M30.2,58.5V64M40.3,53.5L47,55M40.3,38.4L48,33M56,31.7H59.5M66.5,31.7H71.5M79,31.7H83.5M90.5,31.7H95.5M62.3,24V28M63.9,24V28M86.5,24V28M88.1,24V28M63.1,35.5V40M87.3,35.5V40M103,31.7L109.1,23.3L119.2,27.3M119.2,27.3L126,21M132.5,21L141,26.6L137,38.4H123.6L119.2,27.3M123.6,38.4L118,44M137,38.4L141,44M141,26.6L146,24.5M150.5,20.5L152.8,8.2L164.6,3.5L174.6,9.2L181,10.5M174.6,9.2L175.3,22.5M170,28.5L162.9,31.7L153,26M162.9,31.7L159,40M154.3,10L164,6"/>
<path class="w" d="M110,23.6L119.2,27.3M141,26.6L146,24.5M30.2,58.5V63"/>
<text class="t" x="30.2" y="34.7">O</text><text class="t" x="10" y="57.2">O</text><text class="t" x="33.5" y="70.6">OH</text><text class="t" x="53.7" y="58.2">OH</text>
<text class="t" x="52" y="34.7">O</text><text class="t" x="63.1" y="34.7">P</text><text class="t" x="75.2" y="34.7">O</text><text class="t" x="87.3" y="34.7">P</text><text class="t" x="99.1" y="34.7">O</text>
<text class="t" x="63.1" y="22.3">O</text><text class="t" x="87.3" y="22.3">O</text><text class="t" x="63.1" y="46.4">OH</text><text class="t" x="87.3" y="46.4">OH</text>
<text class="t" x="129.3" y="22.9">O</text><text class="t" x="112.5" y="49.8">HO</text><text class="t" x="144.4" y="49.8">OH</text>
<text class="t" x="149.4" y="26.3">N</text><text class="t" x="185.4" y="13.5">O</text><text class="t" x="175.3" y="29">NH</text><text class="t" x="157.2" y="45.4">O</text>
<text class="l" x="5" y="82">C16155</text>
</g>

<!-- NADH C00004 (c) -->
<g transform="translate(331.5,932)">
<rect class="bx" width="185.8" height="104.2"/>
<use href="#gNADH"/>
<text class="t" x="41" y="21">NH<tspan class="s" dy="2">2</tspan></text><text class="t" x="46" y="35.5">O</text><text class="t" x="15.5" y="55">N</text><text class="t" x="38" y="58.5">O</text><text class="t" x="21.7" y="86.4">HO</text><text class="t" x="54.3" y="86.4">OH</text><text class="t" x="69.8" y="61">O</text><text class="t" x="82.9" y="61">P</text><text class="t" x="97.3" y="61">O</text><text class="t" x="113.1" y="61">P</text><text class="t" x="125.9" y="61">O</text><text class="t" x="82.9" y="47.8">O</text><text class="t" x="113.1" y="47.8">O</text><text class="t" x="82.9" y="73.7">OH</text><text class="t" x="113.1" y="73.7">OH</text><text class="t" x="156" y="58.5">O</text><text class="t" x="139.3" y="85.4">HO</text><text class="t" x="171.9" y="85.4">OH</text><text class="t" x="138.1" y="28.2">N</text><text class="t" x="149.4" y="47.7">N</text><text class="t" x="171.2" y="25.6">N</text><text class="t" x="171.2" y="45.1">N</text><text class="t" x="144.4" y="13.2">H<tspan class="s" dy="2">2</tspan><tspan dy="-2">N</tspan></text>
<text class="l" x="5" y="98">C00004</text>
</g>

<!-- NAD+ C00003 (c) -->
<g transform="translate(652.8,931)">
<rect class="bx" width="186" height="105.7"/>
<use href="#gNADP"/>
<text class="t" x="37" y="12">O</text><text class="t" x="53" y="30">NH<tspan class="s" dy="2">2</tspan></text><text class="t" x="16" y="48">N<tspan class="s" dy="-3">+</tspan></text><text class="t" x="37.3" y="58">O</text><text class="t" x="21" y="87">HO</text><text class="t" x="53" y="87">OH</text><text class="t" x="69.2" y="61.5">O</text><text class="t" x="81.6" y="61.5">P</text><text class="t" x="93.4" y="61.5">O</text><text class="t" x="105.2" y="61.5">P</text><text class="t" x="117" y="61.5">O</text><text class="t" x="81.6" y="50.5">O</text><text class="t" x="105.2" y="50.5">O</text><text class="t" x="81.6" y="73.5">OH</text><text class="t" x="105.2" y="73.5">OH</text><text class="t" x="150.5" y="59">O</text><text class="t" x="135.4" y="88">HO</text><text class="t" x="167.3" y="88">OH</text><text class="t" x="139.6" y="31">N</text><text class="t" x="150" y="49">N</text><text class="t" x="170.5" y="29.5">N</text><text class="t" x="170.5" y="49">N</text><text class="t" x="156" y="16">NH<tspan class="s" dy="2">2</tspan></text>
<text class="l" x="5" y="99.5">C00003</text>
</g>

<!-- C00149 -->
<g transform="translate(853.5,953.4)">
<rect class="bx" width="82.7" height="61.4"/>
<path class="bd" d="M18,21L24.9,26.2L35,19.4L46.7,26.2L57.5,19.4L64,24M24.1,26.2V38M25.7,26.2V38M35,19.4L37,14M56.7,19.4V14.5M58.3,19.4V14.5"/>
<path class="w" d="M35,19.4L36.5,15"/>
<text class="t" x="11.5" y="23.5">HO</text><text class="t" x="39" y="11.4">OH</text><text class="t" x="24.9" y="43.6">O</text><text class="t" x="57.5" y="11.4">O</text><text class="t" x="70.9" y="30.2">OH</text>
<text class="l" x="5.8" y="54.5">C00149</text>
</g>

<!-- NADH C00004 (d) -->
<g transform="translate(1137.5,932)">
<rect class="bx" width="186" height="104.2"/>
<use href="#gNADH"/>
<text class="t" x="41" y="21">NH<tspan class="s" dy="2">2</tspan></text><text class="t" x="46" y="35.5">O</text><text class="t" x="15.5" y="55">N</text><text class="t" x="38" y="58.5">O</text><text class="t" x="21.7" y="86.4">HO</text><text class="t" x="54.3" y="86.4">OH</text><text class="t" x="69.8" y="61">O</text><text class="t" x="82.9" y="61">P</text><text class="t" x="97.3" y="61">O</text><text class="t" x="113.1" y="61">P</text><text class="t" x="125.9" y="61">O</text><text class="t" x="82.9" y="47.8">O</text><text class="t" x="113.1" y="47.8">O</text><text class="t" x="82.9" y="73.7">OH</text><text class="t" x="113.1" y="73.7">OH</text><text class="t" x="156" y="58.5">O</text><text class="t" x="139.3" y="85.4">HO</text><text class="t" x="171.9" y="85.4">OH</text><text class="t" x="138.1" y="28.2">N</text><text class="t" x="149.4" y="47.7">N</text><text class="t" x="171.2" y="25.6">N</text><text class="t" x="171.2" y="45.1">N</text><text class="t" x="144.4" y="13.2">H<tspan class="s" dy="2">2</tspan><tspan dy="-2">N</tspan></text>
<text class="l" x="5" y="98">C00004</text>
</g>

<!-- C00026 -->
<g transform="translate(1397,953.8)">
<rect class="bx" width="88.2" height="60.3"/>
<path class="bd" d="M13,26.5L21.4,21.1L31.2,27L41.3,21.1L51.1,27L61.5,21.1L68,25M21.4,21.1L22.5,14.5M14,28.5L21,24M50.3,27V36M51.9,27V36M60.7,21.1V14.5M62.3,21.1V14.5"/>
<text class="t" x="23.5" y="11.6">OH</text><text class="t" x="9.5" y="30">O</text><text class="t" x="51.1" y="42.5">O</text><text class="t" x="61.5" y="11.6">O</text><text class="t" x="74.8" y="29.4">OH</text>
<text class="l" x="6.6" y="53">C00026</text>
</g>

<!-- C00041 -->
<g transform="translate(1500,953.2)">
<rect class="bx" width="65.4" height="61.5"/>
<path class="bd" d="M17,27L25.3,21.7L35.7,27.6L43,23M24.5,21.7V15M26.1,21.7V15M35.7,27.6V35"/>
<text class="t" x="25.3" y="12.2">O</text><text class="t" x="11.3" y="30.6">HO</text><text class="t" x="50.5" y="25.3">CH<tspan class="s" dy="2">3</tspan></text><text class="t" x="40.1" y="43.1">NH<tspan class="s" dy="2">2</tspan></text>
<text class="l" x="5.1" y="55">C00041</text>
</g>

<!-- NADH C00004 (e) -->
<g transform="translate(461.8,1126.3)">
<rect class="bx" width="185.6" height="104"/>
<use href="#gNADH"/>
<text class="t" x="41" y="21">NH<tspan class="s" dy="2">2</tspan></text><text class="t" x="46" y="35.5">O</text><text class="t" x="15.5" y="55">N</text><text class="t" x="38" y="58.5">O</text><text class="t" x="21.7" y="86.4">HO</text><text class="t" x="54.3" y="86.4">OH</text><text class="t" x="69.8" y="61">O</text><text class="t" x="82.9" y="61">P</text><text class="t" x="97.3" y="61">O</text><text class="t" x="113.1" y="61">P</text><text class="t" x="125.9" y="61">O</text><text class="t" x="82.9" y="47.8">O</text><text class="t" x="113.1" y="47.8">O</text><text class="t" x="82.9" y="73.7">OH</text><text class="t" x="113.1" y="73.7">OH</text><text class="t" x="156" y="58.5">O</text><text class="t" x="139.3" y="85.4">HO</text><text class="t" x="171.9" y="85.4">OH</text><text class="t" x="138.1" y="28.2">N</text><text class="t" x="149.4" y="47.7">N</text><text class="t" x="171.2" y="25.6">N</text><text class="t" x="171.2" y="45.1">N</text><text class="t" x="144.4" y="13.2">H<tspan class="s" dy="2">2</tspan><tspan dy="-2">N</tspan></text>
<text class="l" x="5" y="97.5">C00004</text>
</g>

<!-- C00048 -->
<g transform="translate(662.4,1152.1)">
<rect class="bx" width="43.8" height="52.6"/>
<path class="bd" d="M12.5,10L18.7,13.2L26,10M13.5,12L18.7,15M18.7,13.2V25.1L25.5,30M19.5,27L25,31.5"/>
<text class="t t7" x="9.2" y="11.4">O</text><text class="t t7" x="32.8" y="11.4">OH</text><text class="t t7" x="29.4" y="34.8">O</text>
<text class="l" x="6" y="45.5">C00048</text>
</g>

<!-- C00024 -->
<g transform="translate(897.9,1153.2)">
<rect class="bx" width="73.6" height="50.3"/>
<path class="bd" d="M20,26L29.2,21.2L38,26M28.4,21.2V14M30,21.2V14"/>
<text class="t" x="29.2" y="12.4">O</text><text class="t" x="13.1" y="30.9">H<tspan class="s" dy="2">3</tspan><tspan dy="-2">C</tspan></text><text class="t" x="52.7" y="30.9">S−CoA</text>
<text class="l" x="5" y="44">C00024</text>
</g>

<!-- C00058 -->
<g transform="translate(1079,1156)">
<rect class="bx" width="43.6" height="45"/>
<path class="bd" d="M16,24L22.8,18.4L31,24M22,18.4V12M23.6,18.4V12"/>
<text class="t t7" x="22.8" y="10.3">O</text><text class="t t7" x="11" y="28.1">HO</text><text class="t t7" x="34.5" y="28.1">H</text>
<text class="l" x="6.7" y="39">C00058</text>
</g>

<!-- NAD+ C00003 (d) -->
<g transform="translate(1137.5,1125)">
<rect class="bx" width="186" height="106.5"/>
<use href="#gNADP"/>
<text class="t" x="37" y="12">O</text><text class="t" x="53" y="30">NH<tspan class="s" dy="2">2</tspan></text><text class="t" x="16" y="48">N<tspan class="s" dy="-3">+</tspan></text><text class="t" x="37.3" y="58">O</text><text class="t" x="21" y="87">HO</text><text class="t" x="53" y="87">OH</text><text class="t" x="69.2" y="61.5">O</text><text class="t" x="81.6" y="61.5">P</text><text class="t" x="93.4" y="61.5">O</text><text class="t" x="105.2" y="61.5">P</text><text class="t" x="117" y="61.5">O</text><text class="t" x="81.6" y="50.5">O</text><text class="t" x="105.2" y="50.5">O</text><text class="t" x="81.6" y="73.5">OH</text><text class="t" x="105.2" y="73.5">OH</text><text class="t" x="150.5" y="59">O</text><text class="t" x="135.4" y="88">HO</text><text class="t" x="167.3" y="88">OH</text><text class="t" x="139.6" y="31">N</text><text class="t" x="150" y="49">N</text><text class="t" x="170.5" y="29.5">N</text><text class="t" x="170.5" y="49">N</text><text class="t" x="156" y="16">NH<tspan class="s" dy="2">2</tspan></text>
<text class="l" x="5" y="100">C00003</text>
</g>

<!-- NAD+ C00003 (e) -->
<g transform="translate(726,1337.4)">
<rect class="bx" width="186" height="106"/>
<use href="#gNADP"/>
<text class="t" x="37" y="12">O</text><text class="t" x="53" y="30">NH<tspan class="s" dy="2">2</tspan></text><text class="t" x="16" y="48">N<tspan class="s" dy="-3">+</tspan></text><text class="t" x="37.3" y="58">O</text><text class="t" x="21" y="87">HO</text><text class="t" x="53" y="87">OH</text><text class="t" x="69.2" y="61.5">O</text><text class="t" x="81.6" y="61.5">P</text><text class="t" x="93.4" y="61.5">O</text><text class="t" x="105.2" y="61.5">P</text><text class="t" x="117" y="61.5">O</text><text class="t" x="81.6" y="50.5">O</text><text class="t" x="105.2" y="50.5">O</text><text class="t" x="81.6" y="73.5">OH</text><text class="t" x="105.2" y="73.5">OH</text><text class="t" x="150.5" y="59">O</text><text class="t" x="135.4" y="88">HO</text><text class="t" x="167.3" y="88">OH</text><text class="t" x="139.6" y="31">N</text><text class="t" x="150" y="49">N</text><text class="t" x="170.5" y="29.5">N</text><text class="t" x="170.5" y="49">N</text><text class="t" x="156" y="16">NH<tspan class="s" dy="2">2</tspan></text>
<text class="l" x="5" y="99.5">C00003</text>
</g>

<!-- C00010 CoA -->
<g transform="translate(943.8,1319.9)">
<rect class="bx" width="161.5" height="142.2"/>
<path class="bd" d="M64.3,20.4L50.5,25M48,30L49.3,34.7L55,40M61,42L68.6,37.1V26.3L64.3,20.4M64.3,20.4V16M66.6,28V35.5M68.6,26.3L74,24M80,25L88,27.5L87,35M82.5,38L68.6,37.1M55.7,59.8L69.5,56M76,56L81.5,59.8L79.4,69.4H62.2L55.7,59.8M55.7,59.8L42.8,56.2L40,61M81.5,59.8L85,42M79.4,69.4L85,74M62.2,69.4L61,74M11.5,60.3H17.5M11.5,62H17.5M25,61H34M21.4,52.5V57.5M21.4,65V82M21.4,89V106M11.5,107H17.5M11.5,108.7H17.5M21.4,111.5V118M25,107.6H29M35.5,107.6L42,103L53.6,107.6M53.6,67V71M40.5,74H46.5M54.5,74H57.5M49.8,78V83M51.4,78V83M53.6,107.6L68.6,102.8L75.5,104M53.6,107.6V103M53.6,107.6V114M68.6,102.8L64.3,99M70,104V115M71.6,104V115M83,104.5L90.1,107.6L100.8,102.8L109.4,107.6L114.5,104.5M108.6,107.6V116M110.2,107.6V116M121.5,104.5L128.8,106.4L139.5,102.8L145.5,107"/>
<path class="w" d="M81.5,59.8L84.5,45M44,56.5L55.7,59.8"/>
<text class="t" x="62.2" y="13.8">NH<tspan class="s" dy="2">2</tspan></text><text class="t" x="47.1" y="29.3">N</text><text class="t" x="57.9" y="46.1">N</text><text class="t" x="77.2" y="26.4">N</text><text class="t" x="85.8" y="41.9">N</text>
<text class="t" x="72.9" y="58">O</text><text class="t" x="88" y="77.1">OH</text><text class="t" x="60.9" y="77.1">O</text>
<text class="t" x="23.5" y="52">OH</text><text class="t" x="8.5" y="64">O</text><text class="t" x="21.4" y="64">P</text><text class="t" x="37.7" y="64">O</text><text class="t" x="20.6" y="89.7">O</text>
<text class="t" x="8.5" y="110.6">O</text><text class="t" x="21.4" y="110.6">P</text><text class="t" x="23.5" y="123.7">OH</text><text class="t" x="32" y="110.6">O</text>
<text class="t" x="53.6" y="66.4">OH</text><text class="t" x="34.3" y="77.1">HO</text><text class="t" x="50.6" y="77.1">P</text><text class="t" x="50.6" y="89.7">O</text>
<text class="t" x="45" y="99.8">H<tspan class="s" dy="2">3</tspan><tspan dy="-2">C</tspan></text><text class="t" x="64.3" y="96.3">OH</text><text class="t" x="45" y="120.2">H<tspan class="s" dy="2">3</tspan><tspan dy="-2">C</tspan></text><text class="t" x="70.8" y="120.2">O</text>
<text class="t" x="79.4" y="104.6">N</text><text class="t" x="79.4" y="97.5">H</text><text class="t" x="109.4" y="120.2">O</text><text class="t" x="118" y="104.6">N</text><text class="t" x="118" y="97.5">H</text><text class="t" x="150.2" y="110.6">SH</text>
<text class="l" x="6.3" y="136">C00010</text>
</g>

</svg>
</body></html>
